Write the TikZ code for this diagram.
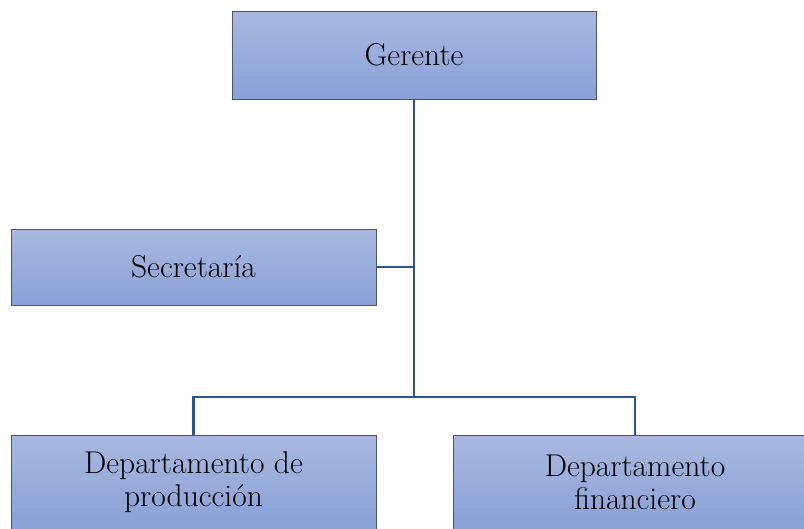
\documentclass[tikz,border=0pt]{standalone}
\usepackage{fontspec}
\definecolor{boxtop}{HTML}{A9B8E0}
\definecolor{boxbot}{HTML}{89A0D6}
\definecolor{boxline}{HTML}{4A5670}
\definecolor{conn}{HTML}{2E5494}
\tikzset{
  orgbox/.style={draw=boxline, line width=1pt, top color=boxtop, bottom color=boxbot,
    rectangle, inner sep=0pt, align=center, font=\fontsize{31.5}{33}\selectfont},
  link/.style={draw=conn, line width=2.8pt}
}
\begin{document}
\begin{tikzpicture}[x=1pt,y=-1pt]
\useasboundingbox (0,0) rectangle (804,528);
\clip (0,0) rectangle (804,528);
\fill[white] (0,0) rectangle (804,528);
\node[orgbox, minimum width=364pt, minimum height=88pt] (ger) at (414,55) {Gerente};
\node[orgbox, minimum width=365pt, minimum height=76pt] (sec) at (193.5,267) {Secretaría};
\node[orgbox, minimum width=365pt, minimum height=94pt] (prod) at (193.5,482) {Departamento de\\producción};
\node[orgbox, minimum width=364pt, minimum height=94pt] (fin) at (635,482) {Departamento\\financiero};
\coordinate (junc) at (414,397);
\draw[link] (ger.south) -- (junc);
\draw[link] (sec.east) -- (sec.east -| ger.south);
\draw[link] (prod.north) |- (junc) -| (fin.north);
\end{tikzpicture}
\end{document}
